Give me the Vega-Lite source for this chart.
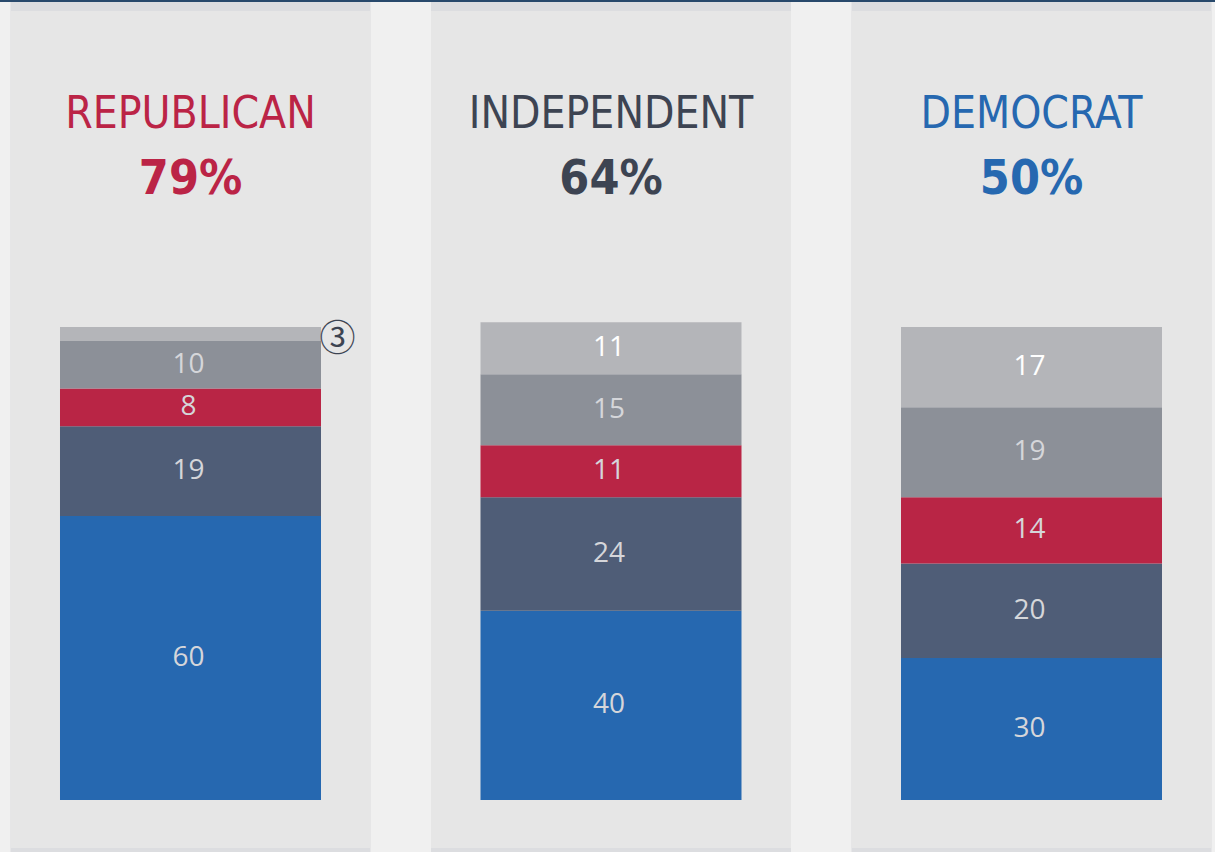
{
  "$schema": "https://vega.github.io/schema/vega-lite/v6.json",
  "width": 1215,
  "height": 852,
  "autosize": "none",
  "padding": 0,
  "background": "#f0f0f0",
  "config": {"view": {"stroke": null}},
  "datasets": {
    "segments": [
      {"party": "Republican", "cat": "A", "value": 60},
      {"party": "Republican", "cat": "B", "value": 19},
      {"party": "Republican", "cat": "C", "value": 8},
      {"party": "Republican", "cat": "D", "value": 10},
      {"party": "Republican", "cat": "E", "value": 3},
      {"party": "Independent", "cat": "A", "value": 40},
      {"party": "Independent", "cat": "B", "value": 24},
      {"party": "Independent", "cat": "C", "value": 11},
      {"party": "Independent", "cat": "D", "value": 15},
      {"party": "Independent", "cat": "E", "value": 11},
      {"party": "Democrat", "cat": "A", "value": 30},
      {"party": "Democrat", "cat": "B", "value": 20},
      {"party": "Democrat", "cat": "C", "value": 14},
      {"party": "Democrat", "cat": "D", "value": 19},
      {"party": "Democrat", "cat": "E", "value": 17}
    ],
    "parties": [
      {"party": "Republican", "name": "REPUBLICAN", "pct": "79%"},
      {"party": "Independent", "name": "INDEPENDENT", "pct": "64%"},
      {"party": "Democrat", "name": "DEMOCRAT", "pct": "50%"}
    ]
  },
  "encoding": {
    "x": {
      "field": "party",
      "type": "nominal",
      "scale": {
        "domain": ["Republican", "Independent", "Democrat"],
        "range": [-19.75, 1241.75],
        "paddingInner": 0,
        "paddingOuter": 0
      },
      "axis": null
    }
  },
  "layer": [
    {
      "data": {"name": "parties"},
      "mark": {"type": "rule", "color": "#28496c", "strokeWidth": 4},
      "encoding": {
        "x": null,
        "y": {"datum": 169.1, "type": "quantitative", "scale": {"domain": [-11, 169.1], "nice": false, "zero": false}, "axis": null}
      }
    },
    {
      "data": {"name": "parties"},
      "mark": {"type": "bar", "color": "#dcdde0", "width": {"band": 0.8561}},
      "encoding": {
        "y": {"datum": 168.68, "type": "quantitative"},
        "y2": {"datum": -11}
      }
    },
    {
      "data": {"name": "parties"},
      "mark": {"type": "bar", "color": "#e6e6e6", "width": {"band": 0.8561}},
      "encoding": {
        "y": {"datum": 166.77, "type": "quantitative"},
        "y2": {"datum": -10.15}
      }
    },
    {
      "data": {"name": "segments"},
      "transform": [
        {"calculate": "indexof(['A','B','C','D','E'], datum.cat)", "as": "ord"},
        {"stack": "value", "groupby": ["party"], "sort": [{"field": "ord", "order": "ascending"}], "as": ["y0", "y1"]}
      ],
      "mark": {"type": "bar", "width": {"band": 0.6207}},
      "encoding": {
        "y": {"field": "y0", "type": "quantitative"},
        "y2": {"field": "y1"},
        "color": {
          "field": "cat",
          "type": "nominal",
          "scale": {"domain": ["A", "B", "C", "D", "E"], "range": ["#2668b0", "#4f5d77", "#b92545", "#8c9098", "#b4b5b9"]},
          "legend": null
        }
      }
    },
    {
      "data": {"name": "segments"},
      "transform": [
        {"calculate": "indexof(['A','B','C','D','E'], datum.cat)", "as": "ord"},
        {"stack": "value", "groupby": ["party"], "sort": [{"field": "ord", "order": "ascending"}], "as": ["y0", "y1"]},
        {"calculate": "(datum.y0 + datum.y1) / 2", "as": "mid"},
        {"filter": "datum.value >= 5"}
      ],
      "mark": {"type": "text", "font": "Open Sans", "fontSize": 28, "align": "center", "baseline": "middle", "dx": -2, "dy": 0},
      "encoding": {
        "y": {"field": "mid", "type": "quantitative"},
        "text": {"field": "value", "type": "quantitative"},
        "color": {
          "condition": {"test": "datum.cat === 'E'", "value": "#ffffff"},
          "value": "#d5d6da"
        }
      }
    },
    {
      "data": {"name": "segments"},
      "transform": [
        {"calculate": "indexof(['A','B','C','D','E'], datum.cat)", "as": "ord"},
        {"stack": "value", "groupby": ["party"], "sort": [{"field": "ord", "order": "ascending"}], "as": ["y0", "y1"]},
        {"calculate": "(datum.y0 + datum.y1) / 2", "as": "mid"},
        {"filter": "datum.value < 5"}
      ],
      "mark": {"type": "text", "text": "③", "font": "Noto Sans CJK JP", "fontSize": 36, "align": "center", "baseline": "middle", "dx": 147, "dy": 6, "color": "#3d4452"},
      "encoding": {
        "y": {"field": "mid", "type": "quantitative"}
      }
    },
    {
      "data": {"name": "parties"},
      "mark": {"type": "text", "font": "DejaVu Sans Condensed", "fontSize": 44, "align": "center", "baseline": "alphabetic"},
      "encoding": {
        "y": {"datum": 142.04, "type": "quantitative"},
        "text": {"field": "name"},
        "color": {
          "condition": [
            {"test": "datum.party === 'Republican'", "value": "#bb2446"},
            {"test": "datum.party === 'Independent'", "value": "#3d4452"}
          ],
          "value": "#2668b0"
        }
      }
    },
    {
      "data": {"name": "parties"},
      "mark": {"type": "text", "font": "DejaVu Sans Condensed", "fontWeight": "bold", "fontSize": 48, "align": "center", "baseline": "alphabetic"},
      "encoding": {
        "y": {"datum": 128.09, "type": "quantitative"},
        "text": {"field": "pct"},
        "color": {
          "condition": [
            {"test": "datum.party === 'Republican'", "value": "#bb2446"},
            {"test": "datum.party === 'Independent'", "value": "#3d4452"}
          ],
          "value": "#2668b0"
        }
      }
    }
  ]
}
